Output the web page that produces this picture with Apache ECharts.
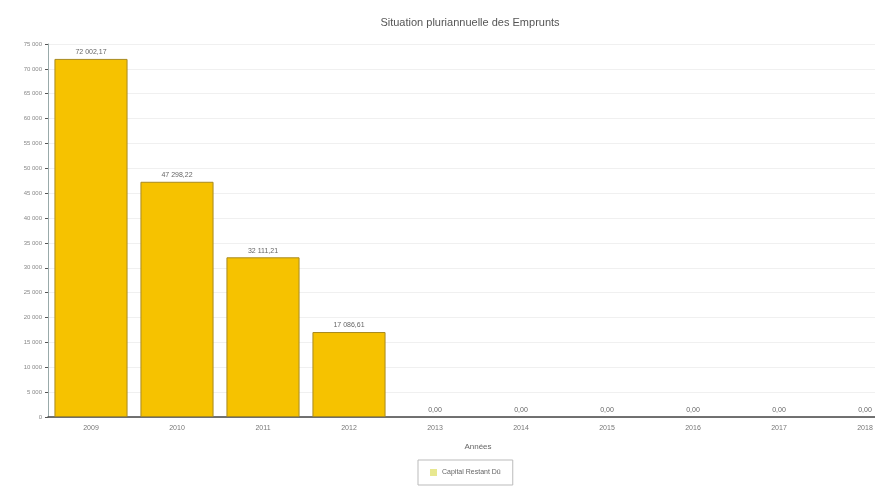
<!DOCTYPE html>
<html>
<head>
<meta charset="utf-8">
<script src="https://cdn.jsdelivr.net/npm/echarts@6/dist/echarts.min.js"></script>
<style>html,body{margin:0;padding:0;background:#fff}#c{width:875px;height:488px}</style>
</head>
<body>
<div id="c"></div>
<script>
var categories = ['2009','2010','2011','2012','2013','2014','2015','2016','2017','2018'];
var capitalRestant = [72002.17, 47298.22, 32111.21, 17086.61, 0, 0, 0, 0, 0, 0];
var yTicks = {min: 0, max: 75000, interval: 5000};

function fr(v, dec) {
  var s = v.toFixed(dec);
  var parts = s.split('.');
  var ip = parts[0].replace(/\B(?=(\d{3})+(?!\d))/g, ' ');
  return dec ? ip + ',' + parts[1] : ip;
}

var barData = capitalRestant.map(function (v) {
  return v === 0 ? {value: v, itemStyle: {borderWidth: 0}} : v;
});

var chart = echarts.init(document.getElementById('c'));
chart.setOption({
  animation: false,
  backgroundColor: '#fff',
  title: {
    text: 'Situation pluriannuelle des Emprunts',
    left: 465, top: 12, textAlign: 'center',
    textStyle: {fontSize: 11, fontWeight: 'normal', color: '#555', fontFamily: 'Liberation Sans'}
  },
  legend: {
    bottom: 3, left: 418,
    data: ['Capital Restant Dû'],
    itemWidth: 7, itemHeight: 7, icon: 'rect',
    itemStyle: {color: '#e8e890', borderWidth: 0},
    borderColor: '#bbb', borderWidth: 1, padding: [9, 12],
    textStyle: {fontSize: 7, color: '#666', fontFamily: 'Liberation Sans'}
  },
  grid: {left: 48, top: 44, bottom: 71, width: 860, outerBoundsMode: 'none', containLabel: false},
  xAxis: {
    type: 'category', data: categories,
    name: 'Années', nameLocation: 'middle', nameGap: 26,
    nameTextStyle: {fontSize: 8, color: '#666', fontFamily: 'Liberation Sans'},
    axisLine: {lineStyle: {color: '#444', width: 1.5}},
    axisTick: {show: false},
    axisLabel: {fontSize: 7, color: '#777', margin: 8, fontFamily: 'Liberation Sans'}
  },
  yAxis: {
    type: 'value', min: yTicks.min, max: yTicks.max, interval: yTicks.interval,
    axisLine: {show: true, lineStyle: {color: '#9aa'}},
    axisTick: {show: true, length: 3, lineStyle: {color: '#555'}},
    axisLabel: {fontSize: 6, color: '#888', margin: 6, fontFamily: 'Liberation Sans',
      formatter: function (v) { return fr(v, 0); }},
    splitLine: {show: true, lineStyle: {color: '#f0f0f0', width: 1}}
  },
  series: [{
    name: 'Capital Restant Dû', type: 'bar', data: barData,
    barCategoryGap: '15%',
    itemStyle: {color: '#F6C200', borderColor: '#a88a20', borderWidth: 1},
    label: {show: true, position: 'top', distance: 3, fontSize: 7, color: '#666',
      fontFamily: 'Liberation Sans',
      formatter: function (p) { return fr(p.value, 2); }}
  }]
});
</script>
</body>
</html>
